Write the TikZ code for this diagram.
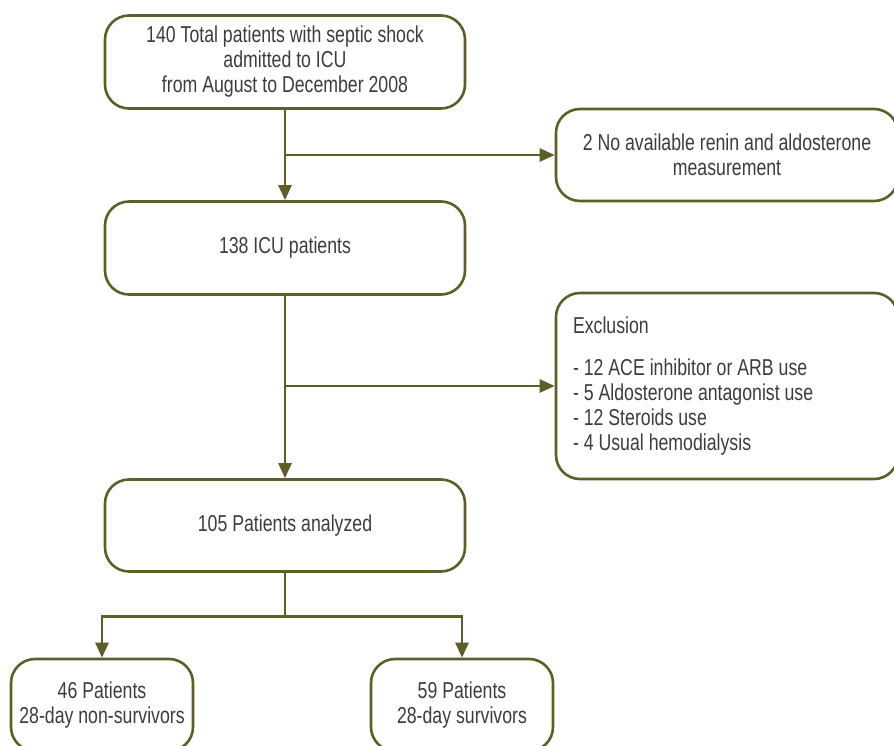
\documentclass[tikz,border=0pt]{standalone}
\usepackage{fontspec}
\setmainfont{Liberation Sans}[FakeStretch=0.77]
\usepackage{xcolor}
\usepackage{tikz}
\usetikzlibrary{arrows.meta}
\definecolor{flowolive}{RGB}{94,94,40}
\definecolor{flowtext}{RGB}{60,60,60}

\begin{document}
\begin{tikzpicture}[x=0.5pt, y=-0.5pt,
    box/.style={draw=flowolive, line width=1.3pt, rounded corners=12pt,
        text=flowtext, align=center, inner xsep=2pt,
        font=\fontsize{11.5}{12.5}\selectfont},
    link/.style={draw=flowolive, line width=1.3pt},
    arr/.style={link, -{Triangle[width=6.5pt,length=7.5pt]}}]
                \useasboundingbox (0,0) rectangle (894,745);

                % Main column
                \node[box, minimum width=180pt, minimum height=46.5pt] (total) at (285,62)
                    {140 Total patients with septic shock\\admitted to ICU\\from August to December 2008};
                \node[box, minimum width=180pt, minimum height=46.5pt] (icu) at (285,248)
                    {138 ICU patients};
                \node[box, minimum width=180pt, minimum height=46pt] (analyzed) at (285,525.5)
                    {105 Patients analyzed};

                % Side boxes
                \node[box, minimum width=171pt, minimum height=46pt] (norenin) at (727,155)
                    {2 No available renin and aldosterone\\measurement};
                \node[box, minimum width=171pt, minimum height=93pt, inner xsep=8.5pt,
                      text width=154pt, align=flush left] (excl) at (727,386)
                    {Exclusion\\[8.5pt]
                     - 12 ACE inhibitor or ARB use\\
                     - 5 Aldosterone antagonist use\\
                     - 12 Steroids use\\
                     - 4 Usual hemodialysis};

                % Outcome boxes
                \node[box, minimum width=91pt, minimum height=46pt] (nonsurv) at (102,705)
                    {46 Patients\\28-day non-survivors};
                \node[box, minimum width=91pt, minimum height=46pt] (surv) at (462,705)
                    {59 Patients\\28-day survivors};

                % Connectors
                \draw[arr] (total) -- (icu);
                \coordinate (split1) at (total.south |- norenin.west);
                \draw[arr] (split1) -- (norenin);
                \draw[arr] (icu) -- (analyzed);
                \coordinate (split2) at (icu.south |- excl.west);
                \draw[arr] (split2) -- (excl);
                \draw[link] (analyzed.south) -- ++(0,43.5) coordinate (fork);
                \draw[arr] (fork) -| (nonsurv.north);
                \draw[arr] (fork) -| (surv.north);
            \end{tikzpicture}
\end{document}
